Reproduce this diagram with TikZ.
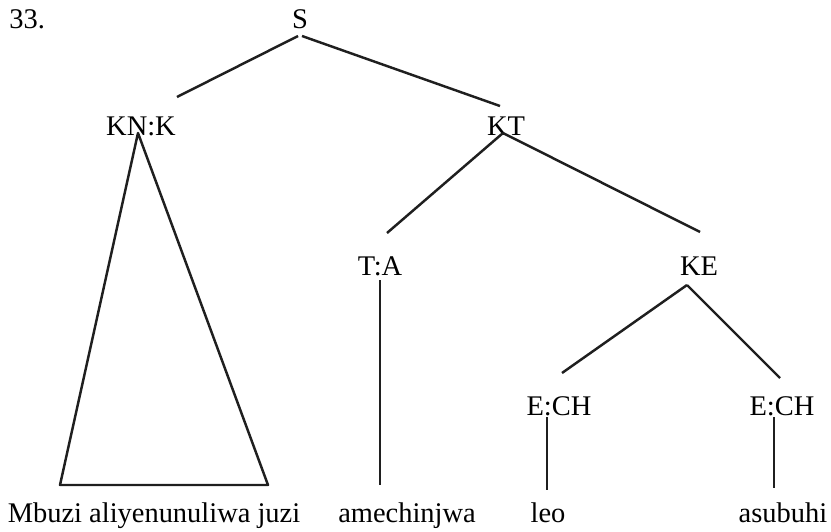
\documentclass[tikz,border=0pt]{standalone}
\usepackage{fontspec}
\setmainfont{Liberation Serif}
\usetikzlibrary{positioning}
\tikzset{
  lbl/.style={anchor=base,inner sep=0pt,font=\fontsize{16.2}{19}\selectfont},
  branch/.style={line width=1.4pt,line join=round,color=black!88}
}
\begin{document}
\begin{tikzpicture}[x=0.02cm,y=-0.02cm]
\useasboundingbox (0,0) rectangle (831,531);
\node[lbl,anchor=base west] (num) at (9,28)  {33.};
\node[lbl] (S)    at (300,28)  {S};
\node[lbl] (KNK)  at (141,135) {KN:K};
\node[lbl] (KT)   at (506,135) {KT};
\node[lbl] (TA)   at (380,275) {T:A};
\node[lbl] (KE)   at (699,275) {KE};
\node[lbl] (ECHa) at (559,415) {E:CH};
\node[lbl] (ECHb) at (782,415) {E:CH};
\node[lbl] (MB)   at (154,522) {Mbuzi aliyenunuliwa juzi};
\node[lbl] (AM)   at (407,522) {amechinjwa};
\node[lbl] (LEO)  at (548,522) {leo};
\node[lbl] (ASU)  at (783,522) {asubuhi};
\draw[branch] ([shift={(-2,8)}]S.base) -- ([shift={(36,-38)}]KNK.base);
\draw[branch] ([shift={(2,8)}]S.base) -- ([shift={(-6,-29)}]KT.base);
\draw[branch] ([shift={(-3,-2)}]KNK.base) -- ([shift={(-94,-37)}]MB.base) -- ([shift={(114,-37)}]MB.base) -- cycle;
\draw[branch] ([shift={(-3,-2)}]KT.base) -- ([shift={(7,-42)}]TA.base);
\draw[branch] ([shift={(-3,-2)}]KT.base) -- ([shift={(1,-43)}]KE.base);
\draw[branch] ([shift={(0,5)}]TA.base) -- ([shift={(-27,-37)}]AM.base);
\draw[branch] ([shift={(-12,10)}]KE.base) -- ([shift={(3,-42)}]ECHa.base);
\draw[branch] ([shift={(-12,10)}]KE.base) -- ([shift={(-2,-37)}]ECHb.base);
\draw[branch] ([shift={(-12,2)}]ECHa.base) -- ([shift={(-1,-32)}]LEO.base);
\draw[branch] ([shift={(-8,2)}]ECHb.base) -- ([shift={(-9,-34)}]ASU.base);
\end{tikzpicture}
\end{document}
